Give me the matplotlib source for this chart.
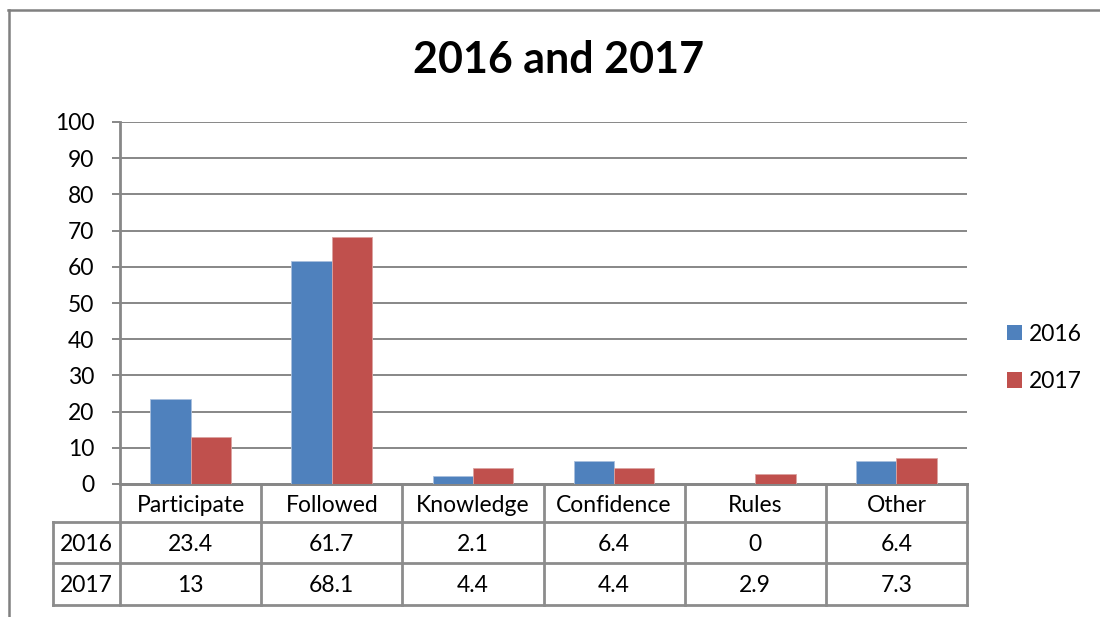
import matplotlib
matplotlib.use("Agg")
import matplotlib.pyplot as plt
import matplotlib.transforms as mtransforms
from matplotlib.patches import Patch
import numpy as np

plt.rcParams['font.family'] = ['Lato', 'DejaVu Sans']

categories = ["Participate", "Followed", "Knowledge", "Confidence", "Rules", "Other"]
series_names = ["2016", "2017"]
values_2016 = [23.4, 61.7, 2.1, 6.4, 0, 6.4]
values_2017 = [13, 68.1, 4.4, 4.4, 2.9, 7.3]
table_text_2016 = ["23.4", "61.7", "2.1", "6.4", "0", "6.4"]
table_text_2017 = ["13", "68.1", "4.4", "4.4", "2.9", "7.3"]
yticks = [0, 10, 20, 30, 40, 50, 60, 70, 80, 90, 100]
title = "2016 and 2017"

colors = ["#4F81BD", "#C0504D"]
grid_c = "#878787"

W, H = 1100, 617
fig = plt.figure(figsize=(W / 100, H / 100), dpi=100)
fig.patch.set_facecolor("white")

def fx(px):
    return px / W

def fy(py):
    return 1 - py / H

ax_l, ax_r, ax_t, ax_b = 120, 967, 122, 484
ax = fig.add_axes([fx(ax_l), fy(ax_b), fx(ax_r - ax_l), (ax_b - ax_t) / H])

x = np.arange(len(categories))
bw = 1 / 3.5
ax.bar(x - bw / 2, values_2016, bw, color=colors[0], edgecolor="#a9c0de", linewidth=0.6, zorder=3)
ax.bar(x + bw / 2, values_2017, bw, color=colors[1], edgecolor="#dba3a1", linewidth=0.6, zorder=3)

fs = 16.5
ax.set_xlim(-0.5, len(categories) - 0.5)
ax.set_ylim(0, 100)
ax.set_yticks(yticks)
ax.set_yticklabels([str(t) for t in yticks], fontsize=fs)
ax.set_xticks([])
ax.yaxis.grid(True, color=grid_c, linewidth=1.4, zorder=0)
ax.set_axisbelow(True)
for s in ["top", "right"]:
    ax.spines[s].set_visible(False)
ax.spines["left"].set_color(grid_c)
ax.spines["left"].set_linewidth(2)
ax.spines["bottom"].set_color(grid_c)
ax.spines["bottom"].set_linewidth(2)
ax.tick_params(axis="y", direction="out", length=6, width=1.4, color=grid_c, pad=12.5, labelcolor="black")

# Data table drawn below the axes
trans = mtransforms.blended_transform_factory(ax.transData, ax.transAxes)
ah = ax_b - ax_t
cat_w = (ax_r - ax_l) / len(categories)
row_y = [0, -(522 - ax_b) / ah, -(563 - ax_b) / ah, -(605 - ax_b) / ah]
left_x = -0.5 - (120 - 53) / cat_w
lw = 2
lc = "#8c8c8c"

def hline(x0, x1, y):
    ax.plot([x0, x1], [y, y], color=lc, lw=lw, transform=trans, clip_on=False, solid_capstyle="projecting")

def vline(xv, y0, y1):
    ax.plot([xv, xv], [y0, y1], color=lc, lw=lw, transform=trans, clip_on=False, solid_capstyle="projecting")

n = len(categories)
hline(-0.5, n - 0.5, row_y[0])
for yv in row_y[1:]:
    hline(left_x, n - 0.5, yv)
for i in range(n + 1):
    vline(i - 0.5, row_y[0], row_y[3])
vline(left_x, row_y[1], row_y[3])

for i, c in enumerate(categories):
    ax.text(i, (row_y[0] + row_y[1]) / 2, c, transform=trans, ha="center", va="center_baseline", fontsize=fs)
    ax.text(i, (row_y[1] + row_y[2]) / 2, table_text_2016[i], transform=trans, ha="center", va="center_baseline", fontsize=fs)
    ax.text(i, (row_y[2] + row_y[3]) / 2, table_text_2017[i], transform=trans, ha="center", va="center_baseline", fontsize=fs)
lab_x = (left_x + -0.5) / 2
ax.text(lab_x, (row_y[1] + row_y[2]) / 2, series_names[0], transform=trans, ha="center", va="center_baseline", fontsize=fs)
ax.text(lab_x, (row_y[2] + row_y[3]) / 2, series_names[1], transform=trans, ha="center", va="center_baseline", fontsize=fs)
ax.set_xlim(-0.5, n - 0.5)

# Title
fig.text(fx(559), fy(60), title, ha="center", va="center", fontsize=31, fontweight="bold")

# Legend
handles = [Patch(facecolor=colors[0]), Patch(facecolor=colors[1])]
fig.legend(handles, series_names, loc="center left", bbox_to_anchor=(fx(1007), fy(358)),
           frameon=False, fontsize=fs, handlelength=0.65, handleheight=0.65,
           handletextpad=0.3, labelspacing=1.15, borderpad=0, borderaxespad=0)

# Chart area border (top and left visible)
fig.add_artist(plt.Line2D([fx(8), 1], [fy(9.5), fy(9.5)], color="#808080", lw=1.8, transform=fig.transFigure))
fig.add_artist(plt.Line2D([fx(8.5), fx(8.5)], [fy(9.5), 0], color="#808080", lw=1.8, transform=fig.transFigure))

fig.savefig("out.png", dpi=100, facecolor="white")
